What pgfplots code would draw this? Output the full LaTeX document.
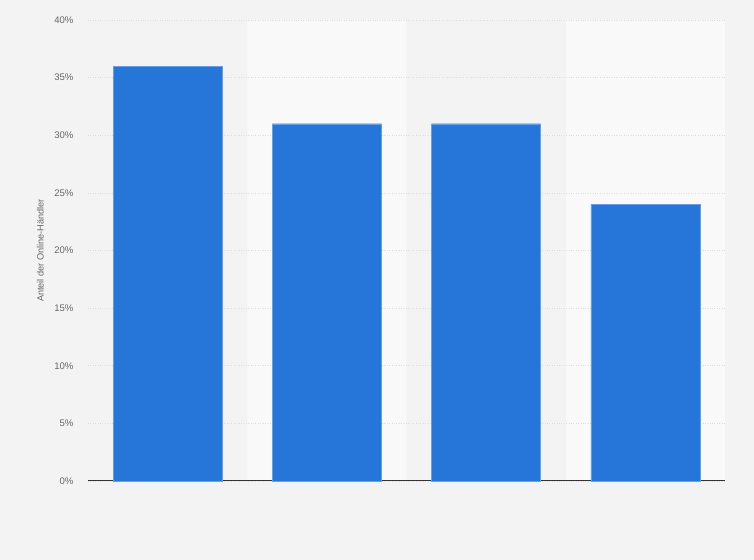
\documentclass[border=0pt]{standalone}
\usepackage{pgfplots}
\pgfplotsset{compat=1.18}
\usepackage{fontspec}
\setmainfont{Liberation Sans}
\definecolor{bgcol}{HTML}{F3F3F3}
\definecolor{bandcol}{HTML}{F9F9F9}
\definecolor{barcol}{HTML}{2676D9}
\definecolor{gridcol}{HTML}{DCDCDC}
\definecolor{tickcol}{HTML}{666666}
\pgfplotsset{frame/.style={
    at={(88bp,79bp)}, anchor=south west,
    scale only axis,
    width=637bp, height=461bp,
    xmin=-0.5, xmax=3.5,
    ymin=0, ymax=40}}
\begin{document}
\begin{tikzpicture}[x=1bp,y=1bp]
\fill[bgcol] (0,0) rectangle (754,560);
\useasboundingbox (0,0) rectangle (754,560);
% alternating column bands
\begin{axis}[frame, hide axis]
\addplot[ybar, bar width=159.25bp, fill=bandcol, draw=none]
    coordinates {(1,40) (3,40)};
\end{axis}
\begin{axis}[
    frame,
    xtick=\empty,
    ytick={0,5,...,40},
    yticklabel={\pgfmathprintnumber{\tick}\%},
    /pgf/number format/assume math mode=true,
    ymajorgrids=true,
    grid style={gridcol, dotted, line width=0.7pt},
    axis x line*=bottom,
    axis y line*=left,
    y axis line style={draw=none},
    x axis line style={black!80, line width=1pt, -},
    tick style={draw=none},
    yticklabel style={font=\fontsize{9.6}{11}\selectfont, text=tickcol, xshift=-11bp},
    ylabel={Anteil der Online-Händler},
    ylabel style={font=\fontsize{9.2}{11}\selectfont, text=tickcol,
        at={(axis description cs:-0.075,0.5)}, anchor=center},
    clip=false,
]
\addplot[ybar, bar width=109bp, fill=barcol, draw=barcol!70!white, line width=0.4pt]
    coordinates {(0,36) (1,31) (2,31) (3,24)};
\end{axis}
\end{tikzpicture}
\end{document}
